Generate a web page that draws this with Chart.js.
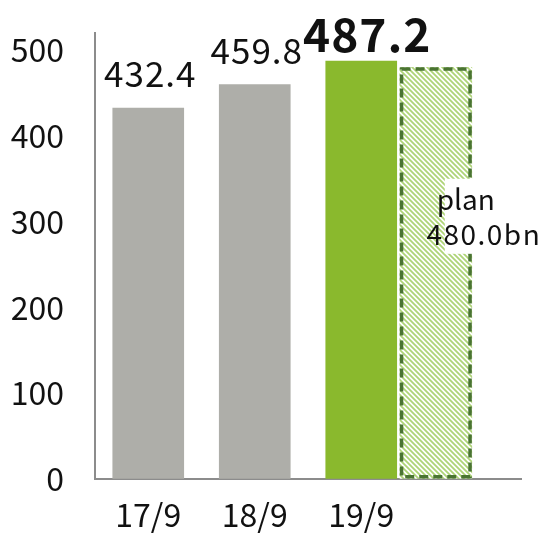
<!DOCTYPE html>
<html>
<head>
<meta charset="utf-8">
<script src="https://cdn.jsdelivr.net/npm/chart.js@4.4.1/dist/chart.umd.min.js"></script>
<style>
  html, body { margin: 0; padding: 0; background: #fff; }
  #wrap { width: 539px; height: 536px; }
</style>
</head>
<body>
<div id="wrap"><canvas id="grafico"></canvas></div>
<script>
const categorias = ["17/9", "18/9", "19/9"];
const valores = [432.4, 459.8, 487.2];
const rotulosValores = ["432.4", "459.8", "487.2"];
const valorPlano = 480.0;
const rotuloPlano = ["plan", "480.0bn"];
const ticksY = [0, 100, 200, 300, 400, 500];

const FONTE = '"Noto Sans CJK JP", "DejaVu Sans Condensed", sans-serif';
const CINZA = "#aeaea9";
const VERDE = "#8ab92d";
const VERDE_ESCURO = "#4a7432";
const DESLOCAMENTO_PLANO = 0.7; // barra do plano fica colada a direita da 19/9

const ctx = document.getElementById("grafico").getContext("2d");

function criarHachura() {
  const t = document.createElement("canvas");
  t.width = 5; t.height = 5;
  const g = t.getContext("2d");
  g.fillStyle = "#fff";
  g.fillRect(0, 0, 5, 5);
  g.strokeStyle = "#aed477";
  g.lineWidth = 1.8;
  g.beginPath();
  g.moveTo(-5, 0); g.lineTo(5, 10);
  g.moveTo(0, 0); g.lineTo(5, 5);
  g.moveTo(0, -5); g.lineTo(10, 5);
  g.stroke();
  return ctx.createPattern(t, "repeat");
}

const pluginRotulos = {
  id: "rotulos",
  afterDatasetsDraw(chart) {
    const c = chart.ctx;
    const yScale = chart.scales.y;
    const barras = chart.getDatasetMeta(0).data;
    c.save();
    c.fillStyle = "#111";
    c.textAlign = "center";
    c.textBaseline = "alphabetic";
    barras.forEach((barra, i) => {
      const destaque = i === barras.length - 1;
      c.font = (destaque ? "bold 46px " : "35px ") + FONTE;
      c.letterSpacing = "1px";
      c.fillText(rotulosValores[i], barra.x + (destaque ? 6 : 2), barra.y - (destaque ? 9 : 21));
    });

    // contorno tracejado da barra do plano
    const plano = chart.getDatasetMeta(1).data[0];
    c.setLineDash([9, 5]);
    c.lineWidth = 3.5;
    c.strokeStyle = VERDE_ESCURO;
    c.strokeRect(plano.x - plano.width / 2 + 1.75, plano.y + 1.75, plano.width - 3.5, plano.base - plano.y - 3.5);
    c.setLineDash([]);

    // caixa do rotulo do plano
    const topo = yScale.getPixelForValue(350);
    c.fillStyle = "#fff";
    c.fillRect(plano.x + 9, topo, chart.width - plano.x, 75);
    c.fillStyle = "#111";
    c.font = "28px " + FONTE;
    c.letterSpacing = "0px";
    c.fillText(rotuloPlano[0], plano.x + 30, topo + 31);
    c.letterSpacing = "1.5px";
    c.fillText(rotuloPlano[1], plano.x + 48, topo + 66);
    c.restore();
  }
};

new Chart(ctx, {
  type: "bar",
  data: {
    datasets: [
      {
        data: valores.map((v, i) => ({ x: i, y: v })),
        backgroundColor: valores.map((v, i) => i === valores.length - 1 ? VERDE : CINZA),
        barThickness: 71,
        grouped: false,
        borderWidth: 0
      },
      {
        data: [{ x: categorias.length - 1 + DESLOCAMENTO_PLANO, y: valorPlano }],
        backgroundColor: criarHachura(),
        barThickness: 72,
        grouped: false,
        borderWidth: 0
      }
    ]
  },
  options: {
    responsive: true,
    maintainAspectRatio: false,
    animation: false,
    layout: { padding: { top: 33, right: 18, left: 0, bottom: 0 } },
    plugins: {
      legend: { display: false },
      tooltip: { enabled: false }
    },
    scales: {
      x: {
        type: "linear",
        offset: false,
        min: -0.5,
        max: 3.5,
        afterBuildTicks: s => { s.ticks = categorias.map((c, i) => ({ value: i })); },
        afterFit: s => { s.height = 57; s.paddingLeft = 0; s.paddingRight = 0; },
        ticks: {
          callback: v => categorias[v],
          font: { family: FONTE, size: 32 },
          color: "#111",
          padding: 17,
          autoSkip: false,
          maxRotation: 0
        },
        grid: { offset: false, drawOnChartArea: false, drawTicks: false },
        border: { color: "#8c8c8c", width: 2 }
      },
      y: {
        min: 0,
        max: 520,
        afterBuildTicks: s => { s.ticks = ticksY.map(v => ({ value: v })); },
        afterFit: s => { s.width = 95; s.paddingTop = 0; s.paddingBottom = 0; },
        ticks: {
          font: { family: FONTE, size: 32 },
          color: "#111",
          padding: 31
        },
        grid: { drawOnChartArea: false, drawTicks: false },
        border: { color: "#8c8c8c", width: 2 }
      }
    }
  },
  plugins: [pluginRotulos]
});
</script>
</body>
</html>
